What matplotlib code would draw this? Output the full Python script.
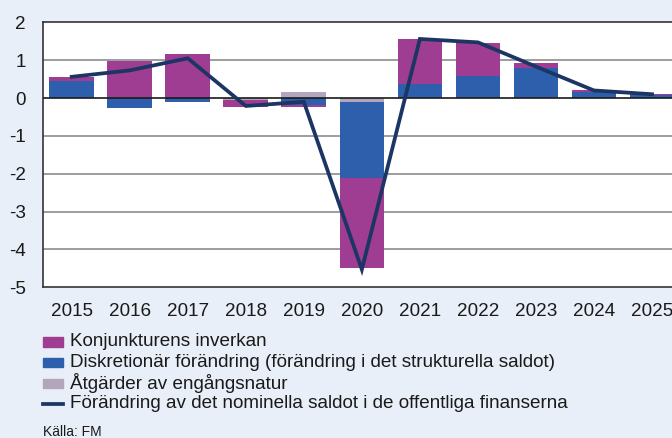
import matplotlib
matplotlib.use("Agg")
import matplotlib.pyplot as plt
from matplotlib.patches import Rectangle
from matplotlib.lines import Line2D
import numpy as np

plt.rcParams['font.family'] = ['Liberation Sans', 'DejaVu Sans']

years = ['2015', '2016', '2017', '2018', '2019', '2020', '2021', '2022', '2023', '2024', '2025']
konjunktur = [0.10, 0.99, 1.15, -0.19, -0.07, -2.38, 1.18, 0.88, 0.14, 0.04, 0.04]
diskretionar = [0.45, -0.26, -0.11, 0.0, -0.18, -2.02, 0.37, 0.57, 0.78, 0.16, 0.07]
engangs = [0.0, 0.0, 0.0, -0.04, 0.16, -0.10, 0.0, 0.0, 0.0, 0.0, 0.0]
nominellt = [0.56, 0.73, 1.05, -0.21, -0.10, -4.53, 1.56, 1.47, 0.83, 0.20, 0.10]

labels = ['Konjunkturens inverkan',
          'Diskretionär förändring (förändring i det strukturella saldot)',
          'Åtgärder av engångsnatur',
          'Förändring av det nominella saldot i de offentliga finanserna']

c_purple = '#9e3d91'
c_blue = '#2e5fac'
c_gray = '#b3a6bc'
c_line = '#1b3564'
bg = '#e9eff8'
fs = 13.6

W, H = 672, 438
fig = plt.figure(figsize=(W / 100, H / 100), dpi=100, facecolor=bg)
ax = fig.add_axes([42.7 / W, 1 - 287.3 / H, (681 - 42.7) / W, (287.3 - 22.3) / H])
ax.set_facecolor('white')

x = np.arange(len(years))
pos_base = np.zeros(len(years))
neg_base = np.zeros(len(years))
for vals, col in [(engangs, c_gray), (diskretionar, c_blue), (konjunktur, c_purple)]:
    v = np.array(vals)
    base = np.where(v >= 0, pos_base, neg_base)
    ax.bar(x, v, bottom=base, width=0.77, color=col, edgecolor='none', zorder=2)
    pos_base += np.where(v >= 0, v, 0)
    neg_base += np.where(v < 0, v, 0)

ax.plot(x, nominellt, color=c_line, lw=2.7, zorder=4, solid_joinstyle='miter')

ax.set_xlim(-0.5, len(years) - 0.5)
ax.set_ylim(-5, 2)
ax.set_yticks(range(-5, 3))
ax.set_yticklabels([str(t) for t in range(-5, 3)])
ax.set_xticks(x)
ax.set_xticklabels(years)
ax.tick_params(axis='both', length=0, labelsize=fs, colors='#1a1a1a')
ax.tick_params(axis='x', pad=11)
ax.tick_params(axis='y', pad=12)
for t in range(-4, 2):
    ax.axhline(t, color='#1a1a1a' if t == 0 else '#8c8c8c', lw=1.2, zorder=3 if t == 0 else 1)
for s in ['left', 'top', 'bottom']:
    ax.spines[s].set_color('#333333')
    ax.spines[s].set_linewidth(1.2)
ax.spines['right'].set_visible(False)

# legend drawn in figure pixel coordinates
rows = [342.0, 362.7, 383.3, 404.0]
for i, (lab, col) in enumerate(zip(labels, [c_purple, c_blue, c_gray, None])):
    yc = 1 - rows[i] / H
    if col is not None:
        fig.patches.append(Rectangle((43 / W, yc - 4.7 / H), 20 / W, 9.4 / H,
                                     transform=fig.transFigure, color=col))
    else:
        fig.lines.append(Line2D([43 / W, 63 / W], [yc, yc], transform=fig.transFigure,
                                color=c_line, lw=2.7))
    fig.text(70 / W, yc, lab, fontsize=fs, va='center', ha='left', color='#1a1a1a')

fig.text(43 / W, 1 - 431.5 / H, 'Källa: FM', fontsize=10, va='center', ha='left', color='#1a1a1a')

fig.savefig('out.png', dpi=100, facecolor=bg)
